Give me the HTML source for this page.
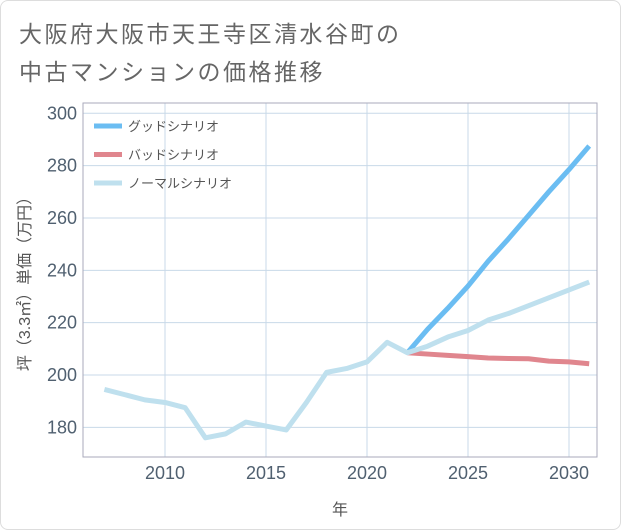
<!DOCTYPE html>
<html><head><meta charset="utf-8"><style>
body{margin:0;background:#fff;}
#wrap{position:relative;width:619px;height:528px;border:1px solid #ddd;border-radius:8px;background:#fff;font-family:"Liberation Sans","Noto Sans CJK JP",sans-serif;}
.t{position:absolute;left:18px;font-size:23px;color:#666;letter-spacing:2.5px;}
</style></head><body>
<div id="wrap">
<div class="t" style="top:14px">大阪府大阪市天王寺区清水谷町の</div>
<div class="t" style="top:52px">中古マンションの価格推移</div>
<svg id="chart" width="621" height="530" style="position:absolute;left:-1px;top:-1px"></svg>
</div>
<script>
const years=[2007,2008,2009,2010,2011,2012,2013,2014,2015,2016,2017,2018,2019,2020,2021,2022,2023,2024,2025,2026,2027,2028,2029,2030,2031];
const normal=[194.5,192.5,190.5,189.5,187.5,176,177.5,182,180.5,179,189.5,201,202.5,205,212.5,208.5,211,214.5,217,221,223.5,226.5,229.5,232.5,235.5];
const fYears=[2022,2023,2024,2025,2026,2027,2028,2029,2030,2031];
const good=[208.5,217.5,225.5,234,243.5,252,261,270,278.5,287.5];
const bad=[208.5,208,207.5,207,206.5,206.3,206.2,205.3,205,204.3];
const yTicks=[180,200,220,240,260,280,300];
const xTicks=[2010,2015,2020,2025,2030];
const L=83,R=597,T=103,B=457;
const x=v=>165+(v-2010)*20.2;
const y=v=>375-(v-200)*2.617;
const svg=document.getElementById('chart');
const NS='http://www.w3.org/2000/svg';
function mk(tag,attrs,parent){const e=document.createElementNS(NS,tag);for(const k in attrs)e.setAttribute(k,attrs[k]);(parent||svg).appendChild(e);return e;}
for(const t of yTicks){
 const g=mk('line',{x1:L,x2:R,y1:y(t),y2:y(t),stroke:'#c8d9e8','stroke-width':1});
 
 
 const tx=mk('text',{x:L-6,y:y(t)+6,'text-anchor':'end','font-size':18,fill:'#506070','font-family':'Liberation Sans, sans-serif'});
 tx.textContent=t;
 
 
}
for(const t of xTicks){
 const g=mk('line',{x1:x(t),x2:x(t),y1:T,y2:B,stroke:'#c8d9e8','stroke-width':1});
 
 
 const tx=mk('text',{x:x(t),y:B+22,'text-anchor':'middle','font-size':18,fill:'#506070','font-family':'Liberation Sans, sans-serif'});
 tx.textContent=t;
 
 
}
const fr=mk('rect',{x:L,y:T,width:R-L,height:B-T,fill:'none',stroke:'#aab','stroke-width':1});


function line(xs,vs,color,name){
 const p=mk('polyline',{points:xs.map((v,i)=>x(v)+','+y(vs[i])).join(' '),fill:'none',stroke:color,'stroke-width':5,'stroke-linejoin':'round'});
 
 
}
line(fYears,bad,'#e0868e','bad-scenario-line');
line(fYears,good,'#6bbdf2','good-scenario-line');
line(years,normal,'#bfe0ee','normal-scenario-line');
const leg=[['グッドシナリオ','#6bbdf2'],['バッドシナリオ','#e0868e'],['ノーマルシナリオ','#bfe0ee']];
leg.forEach((l,i)=>{
 const yy=126+i*28.5;
 const s=mk('line',{x1:94,x2:122,y1:yy,y2:yy,stroke:l[1],'stroke-width':5});
 
 
 const tx=mk('text',{x:128,y:yy+5,'font-size':13,fill:'#555','font-family':'Liberation Sans, Noto Sans CJK JP, sans-serif'});
 tx.textContent=l[0];
 
 
});
const xt=mk('text',{x:340,y:515,'text-anchor':'middle','font-size':16,fill:'#555','font-family':'Liberation Sans, Noto Sans CJK JP, sans-serif'});
xt.textContent='年';


const yt=mk('text',{x:0,y:0,'text-anchor':'middle','font-size':16,fill:'#555','font-family':'Liberation Sans, Noto Sans CJK JP, sans-serif',transform:'translate(30,280) rotate(-90)'});
yt.textContent='坪（3.3㎡）単価（万円）';


</script>
</body></html>
